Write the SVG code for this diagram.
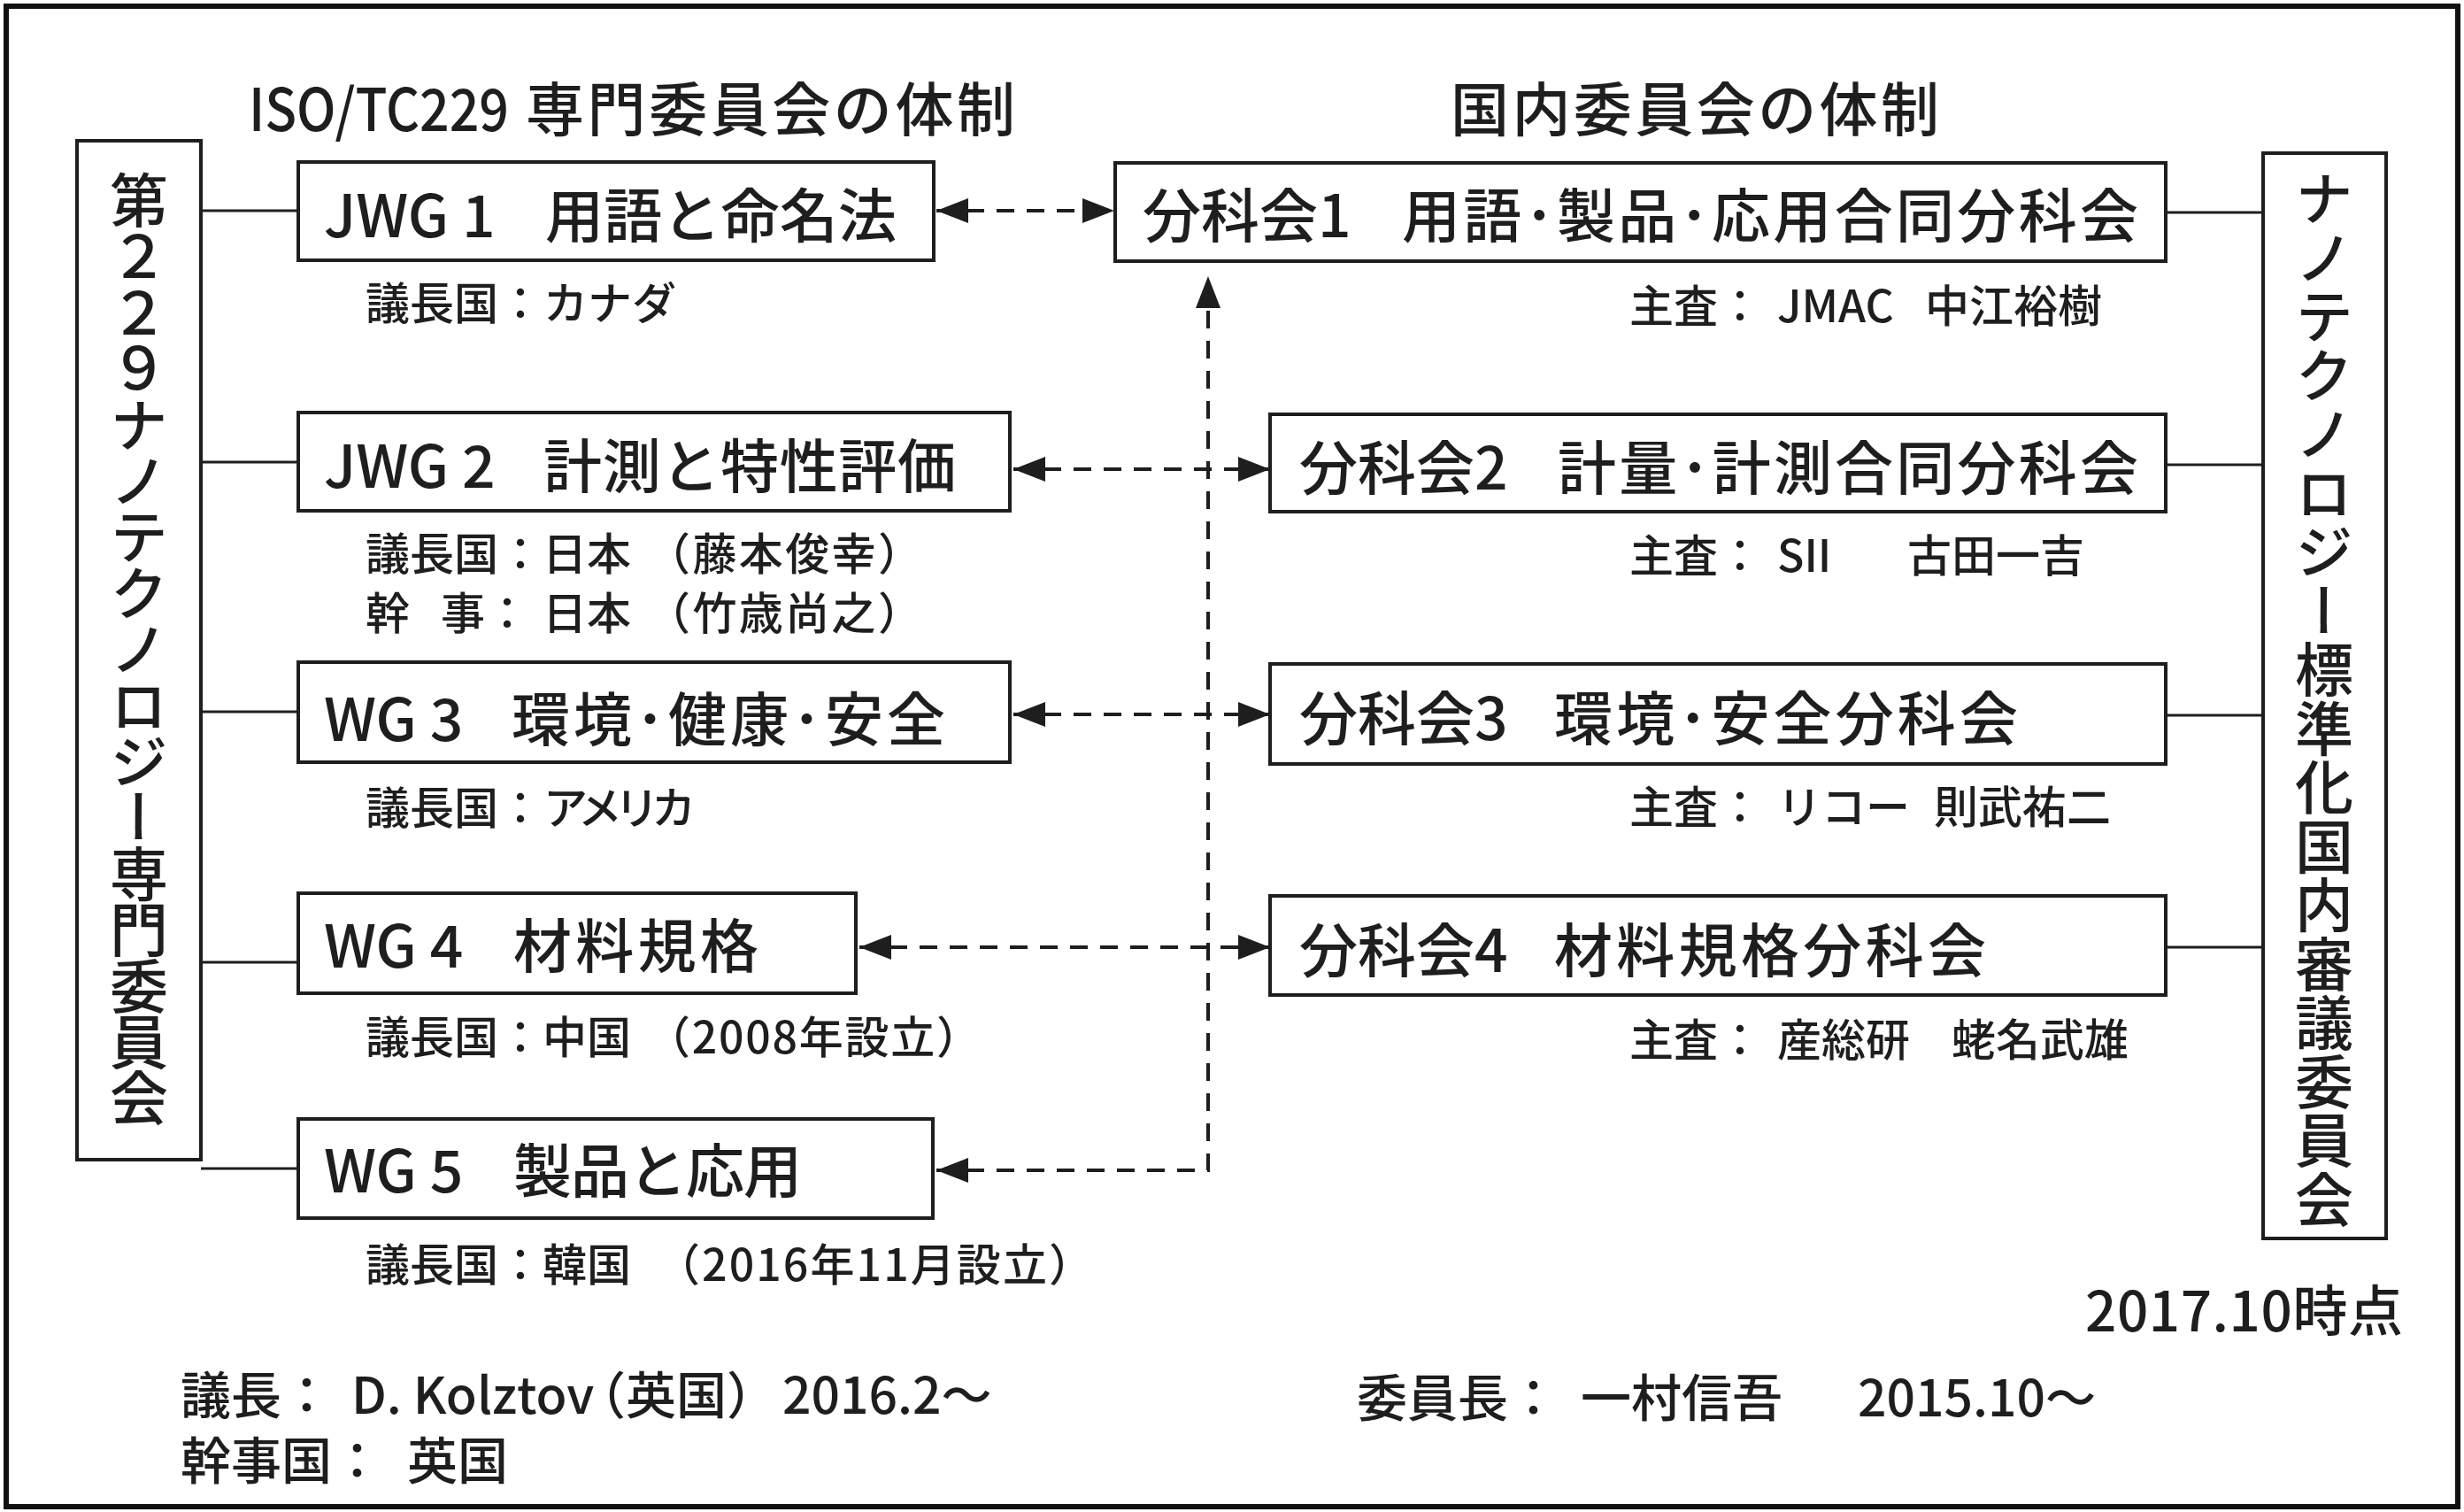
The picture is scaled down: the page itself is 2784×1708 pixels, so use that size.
<svg xmlns="http://www.w3.org/2000/svg" width="2784" height="1708" viewBox="0 0 2784 1708">
<style>
.t{font-family:"Noto Sans CJK JP","Noto Sans",sans-serif;fill:#1e1e1e;font-weight:500}
.h{font-size:66px}
.s{font-size:50px}
.b{font-size:57px}
.box{fill:#fff;stroke:#1e1e1e;stroke-width:4}
.ln{stroke:#1e1e1e;stroke-width:3;fill:none}
.dash{stroke:#1e1e1e;stroke-width:4;fill:none;stroke-dasharray:20 14}
.v{writing-mode:vertical-rl}
</style>
<defs>
<marker id="ah" viewBox="0 0 36 28" refX="36" refY="14" markerWidth="36" markerHeight="28" markerUnits="userSpaceOnUse" orient="auto-start-reverse">
<path d="M0,0 L36,14 L0,28 z" fill="#1e1e1e"/>
</marker>
</defs>
<rect x="0" y="0" width="2784" height="1708" fill="#fff"/>
<rect x="7" y="7" width="2770" height="1695" fill="none" stroke="#111" stroke-width="6"/>

<g id="titles">
<text class="t h" x="281" y="148" textLength="294" lengthAdjust="spacingAndGlyphs">ISO/TC229</text>
<text class="t h" x="594" y="148" textLength="553" lengthAdjust="spacing">専門委員会の体制</text>
<text class="t h" x="1639" y="148" textLength="552" lengthAdjust="spacing">国内委員会の体制</text>
</g>

<g id="connectors">
<line class="ln" x1="227" y1="238" x2="337" y2="238"/>
<line class="ln" x1="227" y1="522" x2="337" y2="522"/>
<line class="ln" x1="227" y1="804" x2="337" y2="804"/>
<line class="ln" x1="227" y1="1087" x2="337" y2="1087"/>
<line class="ln" x1="227" y1="1320" x2="337" y2="1320"/>
<line class="ln" x1="2447" y1="240" x2="2557" y2="240"/>
<line class="ln" x1="2447" y1="525" x2="2557" y2="525"/>
<line class="ln" x1="2447" y1="808" x2="2557" y2="808"/>
<line class="ln" x1="2447" y1="1070" x2="2557" y2="1070"/>
<path class="dash" d="M1058,238 H1259" marker-start="url(#ah)" marker-end="url(#ah)"/>
<path class="dash" d="M1145,530 H1435" marker-start="url(#ah)" marker-end="url(#ah)"/>
<path class="dash" d="M1145,807 H1435" marker-start="url(#ah)" marker-end="url(#ah)"/>
<path class="dash" d="M971,1070 H1435" marker-start="url(#ah)" marker-end="url(#ah)"/>
<path class="dash" d="M1058,1322 H1365 V312" marker-start="url(#ah)" marker-end="url(#ah)"/>
</g>

<g id="tc229">
<rect class="box" x="87" y="159" width="140" height="1151"/>
<text class="t v" x="157" y="193" font-size="66" letter-spacing="-2.6">第２２９ナノテクノロジー専門委員会</text>
</g>

<g id="national">
<rect class="box" x="2557" y="173" width="139" height="1226"/>
<text class="t v" x="2626" y="191" font-size="66" letter-spacing="0.5">ナノテクノロジー標準化国内審議委員会</text>
</g>

<g id="jwg1">
<rect class="box" x="337" y="183" width="718" height="111"/>
<text class="t h" x="366" y="268">JWG 1</text>
<text class="t h" x="616" y="268" textLength="397" lengthAdjust="spacing">用語と命名法</text>
<text class="t s" y="361"><tspan x="413">議長国：</tspan><tspan x="614">カナダ</tspan></text>
</g>

<g id="jwg2">
<rect class="box" x="337" y="466" width="804" height="111"/>
<text class="t h" x="366" y="551">JWG 2</text>
<text class="t h" x="614" y="551" textLength="466" lengthAdjust="spacing">計測と特性評価</text>
<text class="t s" x="413" y="644">議長国：日本</text>
<text class="t s" x="730" y="644" textLength="312" lengthAdjust="spacing">（藤本俊幸）</text>
<text class="t s" y="711"><tspan x="413">幹</tspan><tspan x="498">事：</tspan><tspan x="613">日本</tspan></text>
<text class="t s" x="730" y="711" textLength="312" lengthAdjust="spacing">（竹歳尚之）</text>
</g>

<g id="wg3">
<rect class="box" x="337" y="748" width="804" height="113"/>
<text class="t h" x="366" y="837">WG 3</text>
<text class="t h" x="578" y="837" textLength="490" lengthAdjust="spacing">環境･健康･安全</text>
<text class="t s" x="413" y="931">議長国：</text>
<text class="t s" x="614" y="931" textLength="172" lengthAdjust="spacing">アメリカ</text>
</g>

<g id="wg4">
<rect class="box" x="337" y="1009" width="630" height="113"/>
<text class="t h" x="366" y="1093">WG 4</text>
<text class="t h" x="580" y="1093" textLength="277" lengthAdjust="spacing">材料規格</text>
<text class="t s" x="413" y="1190">議長国：中国</text>
<text class="t s" x="730" y="1190" textLength="378" lengthAdjust="spacing">（2008年設立）</text>
</g>

<g id="wg5">
<rect class="box" x="337" y="1264" width="717" height="112"/>
<text class="t h" x="366" y="1347">WG 5</text>
<text class="t h" x="580" y="1347" textLength="326" lengthAdjust="spacing">製品と応用</text>
<text class="t s" x="413" y="1447">議長国：韓国</text>
<text class="t s" x="741" y="1447" textLength="494" lengthAdjust="spacing">（2016年11月設立）</text>
</g>

<g id="bunka1">
<rect class="box" x="1260" y="184" width="1187" height="111"/>
<text class="t h" x="1291" y="268">分科会1</text>
<text class="t h" x="1584" y="268" textLength="832" lengthAdjust="spacing">用語･製品･応用合同分科会</text>
<text class="t s" y="364"><tspan x="1841">主査：</tspan><tspan x="2008">JMAC</tspan><tspan x="2175">中江裕樹</tspan></text>
</g>

<g id="bunka2">
<rect class="box" x="1435" y="468" width="1012" height="110"/>
<text class="t h" x="1468" y="553">分科会2</text>
<text class="t h" x="1760" y="553" textLength="656" lengthAdjust="spacing">計量･計測合同分科会</text>
<text class="t s" y="646"><tspan x="1841">主査：</tspan><tspan x="2008">SII</tspan><tspan x="2155">古田一吉</tspan></text>
</g>

<g id="bunka3">
<rect class="box" x="1435" y="750" width="1012" height="113"/>
<text class="t h" x="1468" y="836">分科会3</text>
<text class="t h" x="1756" y="836" textLength="524" lengthAdjust="spacing">環境･安全分科会</text>
<text class="t s" y="930"><tspan x="1841">主査：</tspan><tspan x="2008">リコー</tspan><tspan x="2185">則武祐二</tspan></text>
</g>

<g id="bunka4">
<rect class="box" x="1435" y="1012" width="1012" height="112"/>
<text class="t h" x="1468" y="1098">分科会4</text>
<text class="t h" x="1756" y="1098" textLength="488" lengthAdjust="spacing">材料規格分科会</text>
<text class="t s" y="1193"><tspan x="1841">主査：</tspan><tspan x="2008">産総研</tspan><tspan x="2205">蛯名武雄</tspan></text>
</g>

<g id="footer">
<text class="t" x="2356" y="1504" font-size="62" textLength="359" lengthAdjust="spacing">2017.10時点</text>
<text class="t b" y="1597"><tspan x="204">議長：</tspan><tspan x="397">D. Kolztov</tspan><tspan x="650">（英国）</tspan><tspan x="884">2016.2～</tspan></text>
<text class="t b" y="1671"><tspan x="204">幹事国：</tspan><tspan x="460">英国</tspan></text>
<text class="t b" y="1600"><tspan x="1533">委員長：</tspan><tspan x="1786">一村信吾</tspan><tspan x="2099">2015.10～</tspan></text>
</g>
</svg>
